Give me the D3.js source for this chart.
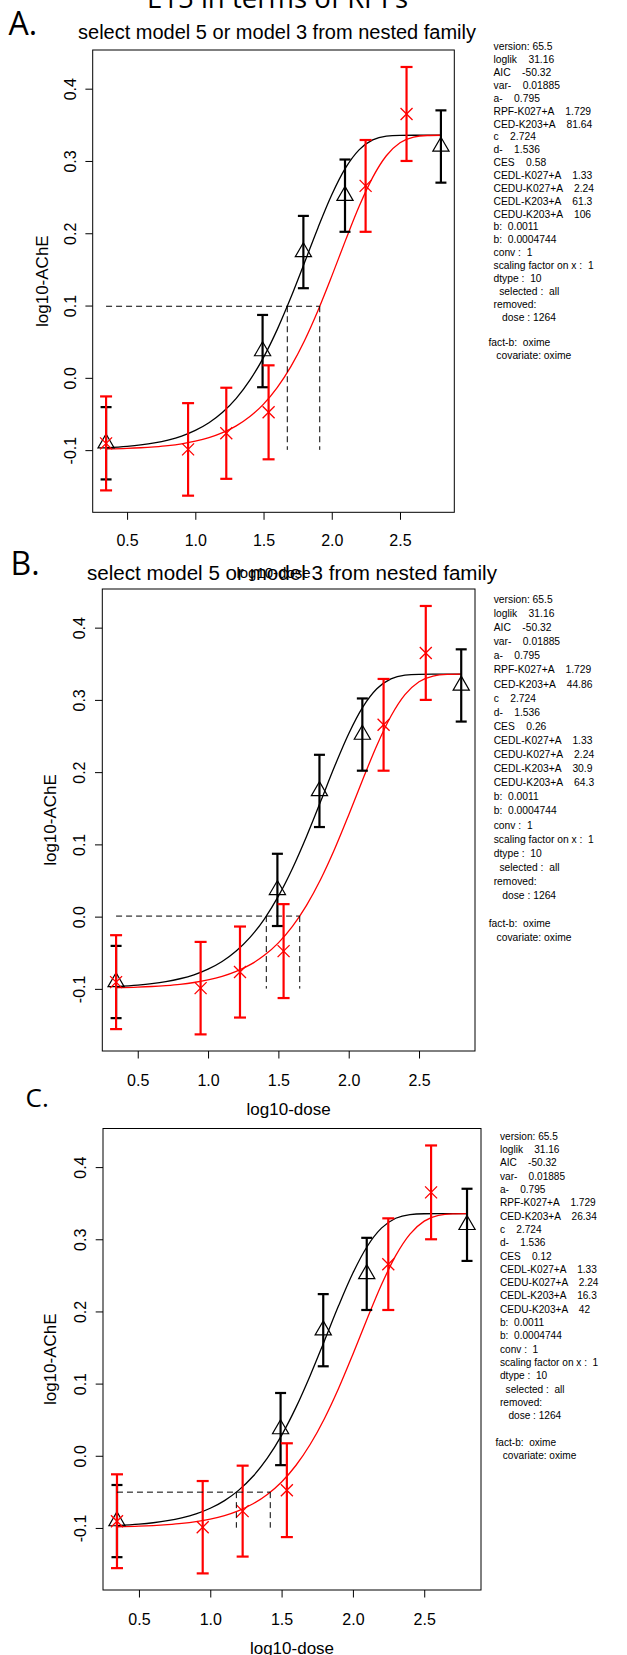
<!DOCTYPE html>
<html>
<head>
<meta charset="utf-8">
<script src="https://cdn.jsdelivr.net/npm/d3@7"></script>
<style>
  html, body { margin: 0; padding: 0; background: #fff; }
  svg { display: block; }
  text { font-family: "Liberation Sans", Arial, sans-serif; fill: #000; }
  .slide { font-family: "Open Sans", "Liberation Sans", sans-serif; }
  .info { white-space: pre; }
</style>
</head>
<body>
<svg id="fig" width="627" height="1655"></svg>
<script>
// ---- observed group means (log10 AChE) and standard errors ----
// K027: black open triangles
const k027Dose = [0.346, 1.493, 1.792, 2.097, 2.800];
const k027Mean = [-0.0905, 0.037, 0.174, 0.252, 0.320];
const k027Se   = [0.050, 0.050, 0.050, 0.050, 0.050];
// K203: red crosses
const k203Dose = [0.346, 0.947, 1.227, 1.537, 2.248, 2.548];
const k203Mean = [-0.0907, -0.099, -0.0767, -0.0477, 0.2655, 0.365];
const k203Se   = [0.065, 0.064, 0.063, 0.065, 0.0635, 0.065];

// ---- fitted curves of the exponential model, sampled on log10-dose ----
const curveDose = [0.346, 0.5, 0.6, 0.7, 0.8, 0.9, 1.0, 1.1, 1.2, 1.3, 1.4, 1.5, 1.6,
                   1.7, 1.8, 1.9, 2.0, 2.1, 2.2, 2.3, 2.4, 2.5, 2.6, 2.7, 2.8];
const k027Fit = [-0.0968, -0.0948, -0.0928, -0.0900, -0.0860, -0.0805, -0.0727, -0.0621,
                 -0.0476, -0.0284, -0.0033, 0.0283, 0.0667, 0.1110, 0.1592, 0.2081,
                 0.2532, 0.2900, 0.3154, 0.3291, 0.3343, 0.3354, 0.3356, 0.3356, 0.3356];
const k203Fit = [-0.0984, -0.0976, -0.0967, -0.0954, -0.0937, -0.0912, -0.0877, -0.0828,
                 -0.0759, -0.0665, -0.0536, -0.0363, -0.0135, 0.0156, 0.0514, 0.0936,
                 0.1407, 0.1898, 0.2369, 0.2773, 0.3072, 0.3251, 0.3330, 0.3352, 0.3356];

// ---- fit parameters (shared by all three panels) ----
const paramA = 0.795;
const paramC = 2.724;
const paramD = 1.536;
const rpfK027 = 1.729;
const bK027 = 0.0011;
const bK203 = 0.0004744;

// ---- per-panel critical effect sizes and CEDs ----
const panelNames = ["A.", "B.", "C."];
const panelTitles = ["select model 5 or model 3 from nested family",
                     "select model 5 or model 3 from nested family", null];
const cesValues = [0.58, 0.26, 0.12];
const cedK203  = [81.64, 44.86, 26.34];
const cedlK203 = [61.3, 30.9, 16.3];
const ceduK203 = [106, 64.3, 42];

// ---- axes ----
const xTicks = [0.5, 1.0, 1.5, 2.0, 2.5];
const yTicks = [-0.1, 0.0, 0.1, 0.2, 0.3, 0.4];
const xDomain = [0.248, 2.898];
const yDomain = [-0.186, 0.4535];

// ---- page geometry ----
const layout = [
  { left: 92.7, top: 50, right: 454.3, bottom: 512.3,
    tickLab: 540, xLab: 573, xLabSize: 15, yTickX: 70, yLabX: 42,
    info: { x: 493.5, y: 46.7, dy: 12.87, size: 10.3, factShift: 5 },
    title: { cx: 277, y: 39.3, len: 398, size: 20 },
    letter: { x: 8.5, y: 34.5, size: 32 } },
  { left: 102.3, top: 589, right: 475, bottom: 1051,
    tickLab: 1080, xLab: 1109, xLabSize: 17, yTickX: 79, yLabX: 50,
    info: { x: 493.7, y: 599.3, dy: 14.1, size: 10.3, factShift: 5 },
    title: { cx: 292, y: 580, len: 410, size: 20.5 },
    letter: { x: 10.5, y: 575, size: 32 } },
  { left: 103, top: 1128.5, right: 481, bottom: 1590,
    tickLab: 1619, xLab: 1648, xLabSize: 17, yTickX: 80, yLabX: 50,
    info: { x: 500, y: 1136, dy: 13.33, size: 10.1, factShift: 4.5 },
    title: null,
    letter: { x: 25.5, y: 1107, size: 26 } }
];

const RED = "#ff0000";
const svg = d3.select("#fig");
const fmt = d => d.toFixed(1);

// page heading, largely above the visible area
svg.append("text").attr("class", "slide")
  .attr("x", 277.5).attr("y", 7.5)
  .attr("text-anchor", "middle")
  .attr("font-size", 27)
  .attr("textLength", 261).attr("lengthAdjust", "spacingAndGlyphs")
  .text("E15 in terms of RPFs");

function infoLines(i) {
  return [
    "version: 65.5",
    "loglik    31.16",
    "AIC    -50.32",
    "var-    0.01885",
    "a-    " + paramA,
    "RPF-K027+A    " + rpfK027,
    "CED-K203+A    " + cedK203[i],
    "c    " + paramC,
    "d-    " + paramD,
    "CES    " + cesValues[i],
    "CEDL-K027+A    1.33",
    "CEDU-K027+A    2.24",
    "CEDL-K203+A    " + cedlK203[i],
    "CEDU-K203+A    " + ceduK203[i],
    "b:  " + bK027,
    "b:  " + bK203,
    "conv :  1",
    "scaling factor on x :  1",
    "dtype :  10",
    "  selected :  all",
    "removed:",
    "   dose : 1264",
    "",
    "fact-b:  oxime",
    " covariate: oxime"
  ];
}

const triPath = "M0,-9.3L8.1,4.67L-8.1,4.67Z";

layout.forEach((L, i) => {
  const x = d3.scaleLinear().domain(xDomain).range([L.left, L.right]);
  const y = d3.scaleLinear().domain(yDomain).range([L.bottom, L.top]);
  const g = svg.append("g");

  // panel letter
  g.append("text").attr("class", "slide")
    .attr("x", L.letter.x).attr("y", L.letter.y)
    .attr("font-size", L.letter.size)
    .text(panelNames[i]);

  // plot title
  if (L.title) {
    g.append("text")
      .attr("x", L.title.cx).attr("y", L.title.y)
      .attr("text-anchor", "middle")
      .attr("font-size", L.title.size)
      .attr("textLength", L.title.len).attr("lengthAdjust", "spacingAndGlyphs")
      .text(panelTitles[i]);
  }

  // x axis
  const ax = g.append("g").attr("transform", `translate(0,${L.bottom})`)
    .call(d3.axisBottom(x).tickValues(xTicks).tickSize(7.5).tickFormat(fmt));
  ax.select(".domain").remove();
  ax.selectAll("line").attr("stroke", "#000");
  ax.selectAll("text")
    .attr("y", L.tickLab - L.bottom).attr("dy", "0.35em")
    .attr("font-size", 16)
    .style("font-family", '"Liberation Sans", Arial, sans-serif');

  // y axis with rotated labels
  const ay = g.append("g").attr("transform", `translate(${L.left},0)`)
    .call(d3.axisLeft(y).tickValues(yTicks).tickSize(7.3).tickFormat(fmt));
  ay.select(".domain").remove();
  ay.selectAll("line").attr("stroke", "#000");
  ay.selectAll("text")
    .attr("x", 0).attr("y", 0).attr("dy", "0.35em")
    .attr("text-anchor", "middle")
    .attr("transform", `translate(${L.yTickX - L.left},0) rotate(-90)`)
    .attr("font-size", 16)
    .style("font-family", '"Liberation Sans", Arial, sans-serif');

  // axis titles
  g.append("text")
    .attr("x", (L.left + L.right) / 2).attr("y", L.xLab).attr("dy", "0.35em")
    .attr("text-anchor", "middle").attr("font-size", L.xLabSize)
    .text("log10-dose");
  g.append("text")
    .attr("transform", `translate(${L.yLabX},${(L.top + L.bottom) / 2}) rotate(-90)`)
    .attr("dy", "0.35em")
    .attr("text-anchor", "middle").attr("font-size", 17)
    .text("log10-AChE");

  // plot box
  g.append("rect")
    .attr("x", L.left).attr("y", L.top)
    .attr("width", L.right - L.left).attr("height", L.bottom - L.top)
    .attr("fill", "none").attr("stroke", "#000").attr("stroke-width", 1);

  // fitted curves
  const line = d3.line().x(d => x(d[0])).y(d => y(d[1])).curve(d3.curveMonotoneX);
  g.append("path").datum(curveDose.map((d, k) => [d, k027Fit[k]]))
    .attr("d", line).attr("fill", "none").attr("stroke", "#000").attr("stroke-width", 1.3);
  g.append("path").datum(curveDose.map((d, k) => [d, k203Fit[k]]))
    .attr("d", line).attr("fill", "none").attr("stroke", RED).attr("stroke-width", 1.3);

  // error bars and symbols
  function bars(doses, means, ses, color, capHalf, width) {
    const eb = g.append("g").attr("stroke", color).attr("stroke-width", width).attr("fill", "none");
    doses.forEach((d, k) => {
      const lo = y(means[k] - ses[k]), hi = y(means[k] + ses[k]), px = x(d);
      eb.append("line").attr("x1", px).attr("x2", px).attr("y1", lo).attr("y2", hi);
      eb.append("line").attr("x1", px - capHalf).attr("x2", px + capHalf).attr("y1", lo).attr("y2", lo);
      eb.append("line").attr("x1", px - capHalf).attr("x2", px + capHalf).attr("y1", hi).attr("y2", hi);
    });
  }
  bars(k027Dose, k027Mean, k027Se, "#000", 5.5, 2.2);
  g.append("g").selectAll("path").data(k027Dose).join("path")
    .attr("d", triPath)
    .attr("transform", (d, k) => `translate(${x(d)},${y(k027Mean[k])})`)
    .attr("fill", "none").attr("stroke", "#000").attr("stroke-width", 1.2);

  bars(k203Dose, k203Mean, k203Se, RED, 6, 2.2);
  g.append("g").selectAll("path").data(k203Dose).join("path")
    .attr("d", "M-6,-6L6,6M-6,6L6,-6")
    .attr("transform", (d, k) => `translate(${x(d)},${y(k203Mean[k])})`)
    .attr("fill", "none").attr("stroke", RED).attr("stroke-width", 1.3);

  // CES level and CEDs of both compounds
  const level = Math.log10(paramA * (1 + cesValues[i]));
  const base = Math.log10(paramA);
  const cedRed = Math.log10(cedK203[i]);
  const cedBlack = Math.log10(cedK203[i] / rpfK027);
  const dash = g.append("g").attr("stroke", "#000").attr("stroke-width", 1)
    .attr("stroke-dasharray", "6,4").attr("fill", "none");
  dash.append("line").attr("x1", x(k203Dose[0])).attr("x2", x(cedRed))
    .attr("y1", y(level)).attr("y2", y(level));
  [cedBlack, cedRed].forEach(c => {
    dash.append("line").attr("x1", x(c)).attr("x2", x(c))
      .attr("y1", y(level)).attr("y2", y(base));
  });

  // model summary
  const info = g.append("g");
  infoLines(i).forEach((s, k) => {
    const isFact = s.startsWith("fact-b");
    info.append("text").attr("class", "info")
      .attr("xml:space", "preserve")
      .attr("x", isFact ? L.info.x - L.info.factShift : L.info.x)
      .attr("y", L.info.y + k * L.info.dy).attr("dy", "0.35em")
      .attr("font-size", L.info.size)
      .text(s);
  });
});
</script>
</body>
</html>
